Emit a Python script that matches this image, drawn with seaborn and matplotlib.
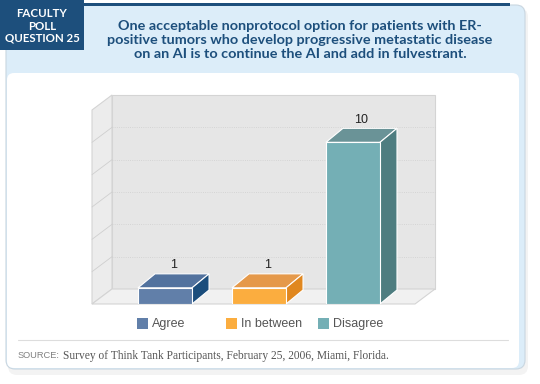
import numpy as np
import pandas as pd
import matplotlib
matplotlib.use('Agg')
import matplotlib.pyplot as plt
import seaborn as sns
from matplotlib.patches import Rectangle, Polygon, FancyBboxPatch

# data
categories = ['Agree', 'In between', 'Disagree']
responses = [1, 1, 10]
front_colors = ['#617fa9', '#fbad3f', '#74afb5']
top_colors = ['#52729e', '#e5994a', '#6a9397']
side_colors = ['#1b4d7c', '#e0871f', '#4e7d80']

title = ('One acceptable nonprotocol option for patients with ER-\n'
         'positive tumors who develop progressive metastatic disease\n'
         'on an AI is to continue the AI and add in fulvestrant.')
source = 'Survey of Think Tank Participants, February 25, 2006, Miami, Florida.'

sns.set_style('white')
plt.rcParams['font.family'] = ['Lato', 'DejaVu Sans']

navy = '#1d4f7c'
W, H = 540, 384
fig = plt.figure(figsize=(5.4, 3.84), dpi=100)

# background / card in pixel coords
bg = fig.add_axes([0, 0, 1, 1], zorder=-1)
bg.set_xlim(0, W)
bg.set_ylim(H, 0)
bg.axis('off')

bg.add_patch(FancyBboxPatch((8, 8), 520, 367, boxstyle='round,pad=0,rounding_size=9',
                            fc='#ececec', ec='none', alpha=0.6))
bg.add_patch(FancyBboxPatch((6, 5), 519, 364, boxstyle='round,pad=0,rounding_size=9',
                            fc='#dcedf9', ec='#c9d6e0', lw=0.8))
bg.add_patch(FancyBboxPatch((7, 73), 512, 295, boxstyle='round,pad=0,rounding_size=7',
                            fc='white', ec='none'))
bg.add_patch(Rectangle((0, 3), 510, 3, fc=navy, ec='none'))
bg.add_patch(Rectangle((0, 0), 84, 50, fc=navy, ec='none'))
bg.text(42, 26, 'FACULTY\nPOLL\nQUESTION 25', color='white', ha='center', va='center',
        fontsize=8.3, fontweight='bold', linespacing=1.15)
bg.text(300, 40, title, color=navy, ha='center', va='center', fontsize=10.4,
        fontweight='bold', linespacing=1.17)

# legend (manual, like the original)
leg_x = [137, 226, 318]
for lx, lab, c in zip(leg_x, categories, front_colors):
    bg.add_patch(Rectangle((lx, 318), 11, 11, fc=c, ec='none'))
    bg.text(lx + 15, 324, lab, color='#555555', va='center', fontsize=9,
            family=['Liberation Sans', 'DejaVu Sans'])

bg.plot([18, 508], [340, 340], color='#dddddd', lw=0.8)
bg.text(18, 356, 'SOURCE:', color='#808080', va='center', fontsize=6.7,
        family=['Liberation Sans', 'DejaVu Sans'])
bg.text(63, 356, source, color='#555555', va='center', fontsize=8.3,
        family=['Liberation Serif', 'DejaVu Serif'])

# main chart (front plane)
x_left, x_right, y_bot, y_top = 92, 415, 304, 110
ax = fig.add_axes([x_left / W, 1 - y_bot / H, (x_right - x_left) / W, (y_bot - y_top) / H])
ax.patch.set_alpha(0)
df = pd.DataFrame({'answer': categories, 'n': responses})
sns.barplot(data=df, x='answer', y='n', hue='answer', palette=front_colors, saturation=1,
            width=0.575, edgecolor='white', linewidth=0.8, legend=False, ax=ax, zorder=3)
bars = list(ax.patches)
ymax = 12
x0, x1 = -0.777, 2.66
ax.set_xlim(x0, x1)
ax.set_ylim(0, ymax)
ax.axis('off')

# pixel -> data depth
ux = (x1 - x0) / (x_right - x_left)
uy = ymax / (y_bot - y_top)
wdx, wdy = 20 * ux, 15 * uy   # wall depth
bdx, bdy = 17 * ux, 14 * uy   # bar depth

kw = dict(clip_on=False, zorder=0.5)
ax.add_patch(Polygon([(x0 + wdx, wdy), (x1 + wdx, wdy), (x1 + wdx, ymax + wdy), (x0 + wdx, ymax + wdy)],
                     fc='#e6e6e6', ec='#d4d4d4', lw=0.8, **kw))
ax.add_patch(Polygon([(x0, 0), (x0 + wdx, wdy), (x0 + wdx, ymax + wdy), (x0, ymax)],
                     fc='#ececec', ec='#d4d4d4', lw=0.8, **kw))
ax.add_patch(Polygon([(x0, 0), (x1, 0), (x1 + wdx, wdy), (x0 + wdx, wdy)],
                     fc='#f1f1f1', ec='#d4d4d4', lw=0.8, **kw))
for g in range(2, ymax, 2):
    ax.plot([x0 + wdx, x1 + wdx], [g + wdy, g + wdy], color='#cfcfcf', lw=0.6, ls=':',
            clip_on=False, zorder=0.6)
    ax.plot([x0, x0 + wdx], [g, g + wdy], color='#cfcfcf', lw=0.6, clip_on=False, zorder=0.6)

for p, tc, sc, v in zip(bars, top_colors, side_colors, responses):
    bx, bw, bh = p.get_x(), p.get_width(), p.get_height()
    ax.add_patch(Polygon([(bx, bh), (bx + bw, bh), (bx + bw + bdx, bh + bdy), (bx + bdx, bh + bdy)],
                         fc=tc, ec='white', lw=0.8, clip_on=False, zorder=2.5))
    ax.add_patch(Polygon([(bx + bw, 0), (bx + bw + bdx, bdy), (bx + bw + bdx, bh + bdy), (bx + bw, bh)],
                         fc=sc, ec='white', lw=0.8, clip_on=False, zorder=2.5))
    ax.annotate(str(v), (bx + bw / 2 + bdx / 2, bh + bdy), xytext=(0, 2), textcoords='offset points',
                ha='center', va='bottom', fontsize=9, color='#222222',
                family=['Liberation Sans', 'DejaVu Sans'])

fig.savefig('out.png', dpi=100)
